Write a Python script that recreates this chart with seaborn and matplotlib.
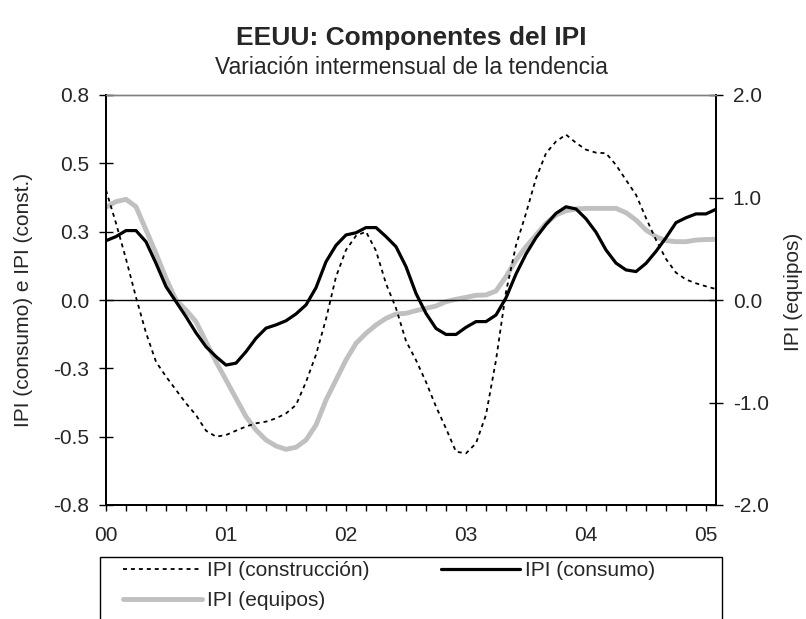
import numpy as np
import pandas as pd
import seaborn as sns
import matplotlib
matplotlib.use("Agg")
import matplotlib.pyplot as plt
from matplotlib.lines import Line2D
from matplotlib.patches import Rectangle

# ---- data (monthly, Jan 2000 .. Feb 2005) ----
months = list(range(62))
year_labels = ["00", "01", "02", "03", "04", "05"]
year_positions = [0, 12, 24, 36, 48, 60]

construccion = [0.402, 0.281, 0.150, 0.010, -0.120, -0.226, -0.280, -0.329, -0.378, -0.421,
                -0.478, -0.500, -0.494, -0.478, -0.463, -0.451, -0.445, -0.433, -0.415, -0.384,
                -0.300, -0.200, -0.070, 0.085, 0.183, 0.235, 0.250, 0.180, 0.060, -0.030,
                -0.150, -0.220, -0.300, -0.390, -0.470, -0.555, -0.561, -0.524, -0.420, -0.220,
                0.030, 0.200, 0.317, 0.445, 0.537, 0.580, 0.605, 0.575, 0.550, 0.539,
                0.537, 0.494, 0.439, 0.385, 0.300, 0.220, 0.150, 0.100, 0.075, 0.061,
                0.050, 0.040]

consumo = [0.217, 0.232, 0.254, 0.254, 0.213, 0.134, 0.049, -0.006, -0.061, -0.120,
           -0.171, -0.207, -0.238, -0.231, -0.189, -0.140, -0.103, -0.091, -0.076, -0.051,
           -0.018, 0.045, 0.140, 0.200, 0.238, 0.246, 0.265, 0.265, 0.232, 0.195,
           0.122, 0.024, -0.049, -0.104, -0.126, -0.126, -0.100, -0.079, -0.079, -0.055,
           0.008, 0.095, 0.168, 0.228, 0.276, 0.317, 0.341, 0.333, 0.297, 0.248,
           0.183, 0.135, 0.110, 0.104, 0.134, 0.178, 0.228, 0.283, 0.301, 0.315,
           0.315, 0.332]

equipos = [0.904, 0.960, 0.982, 0.910, 0.683, 0.455, 0.212, 0.000, -0.098, -0.211,
           -0.407, -0.602, -0.780, -0.959, -1.138, -1.268, -1.366, -1.424, -1.457, -1.437,
           -1.366, -1.220, -0.976, -0.780, -0.585, -0.423, -0.325, -0.244, -0.179, -0.137,
           -0.130, -0.104, -0.081, -0.059, -0.016, 0.007, 0.026, 0.046, 0.049, 0.088,
           0.228, 0.390, 0.520, 0.634, 0.748, 0.829, 0.871, 0.888, 0.894, 0.894,
           0.894, 0.894, 0.852, 0.780, 0.683, 0.618, 0.579, 0.569, 0.569, 0.585,
           0.590, 0.592]

left_ticks = [-0.75, -0.5, -0.25, 0.0, 0.25, 0.5, 0.75]
left_tick_labels = ["-0.8", "-0.5", "-0.3", "0.0", "0.3", "0.5", "0.8"]
right_ticks = [-2.0, -1.0, 0.0, 1.0, 2.0]
right_tick_labels = ["-2.0", "-1.0", "0.0", "1.0", "2.0"]

df = pd.DataFrame({"mes": months, "construccion": construccion,
                   "consumo": consumo, "equipos": equipos})

sns.set_style("white")
plt.rcParams["font.family"] = ["Liberation Sans", "DejaVu Sans"]

W, H = 806, 619
fig = plt.figure(figsize=(W / 100, H / 100), dpi=100)
L, R, T, B = 106, 716, 95, 505
ax = fig.add_axes([L / W, 1 - B / H, (R - L) / W, (B - T) / H])
ax2 = ax.twinx()

GRAY = "#c0c0c0"
DASH = (0, (2.2, 2.2))
sns.lineplot(data=df, x="mes", y="equipos", ax=ax2, color=GRAY, lw=3.5,
             solid_capstyle="butt")
sns.lineplot(data=df, x="mes", y="construccion", ax=ax, color="black", lw=1.3,
             linestyle=DASH)
sns.lineplot(data=df, x="mes", y="consumo", ax=ax, color="black", lw=2.3)
ax.set_zorder(ax2.get_zorder() + 1)
ax.patch.set_visible(False)

ax.axhline(0, color="black", lw=1.0, zorder=0)

ax.set_xlim(0, 61)
ax.set_ylim(-0.75, 0.75)
ax2.set_ylim(-2.0, 2.0)

ax.set_xticks(year_positions)
ax.set_xticklabels(year_labels)
ax.set_xticks(list(range(0, 62, 2)), minor=True)
ax.set_yticks(left_ticks)
ax.set_yticklabels(left_tick_labels)
ax2.set_yticks(right_ticks)
ax2.set_yticklabels(right_tick_labels)

fs = 15
ax.tick_params(axis="x", which="both", direction="out", length=4, width=1,
               color="black", labelsize=fs, pad=11, bottom=True)
ax.tick_params(axis="y", direction="inout", length=10, width=1, color="black",
               labelsize=fs, pad=7, left=True)
ax2.tick_params(axis="y", direction="inout", length=10, width=1, color="black",
                labelsize=fs, pad=7, right=True)

ax.set_xlabel("")
ax.set_ylabel("IPI (consumo) e IPI (const.)", fontsize=fs)
ax2.set_ylabel("IPI (equipos)", fontsize=fs)
ax.yaxis.set_label_coords((33 - L) / (R - L), 0.5)
ax2.yaxis.set_label_coords((784 - L) / (R - L), 0.52)

for a in (ax, ax2):
    for s in ("left", "right", "bottom"):
        a.spines[s].set_color("black")
        a.spines[s].set_linewidth(1.3)
    a.spines["top"].set_color("#808080")
    a.spines["top"].set_linewidth(1.0)

cx = (L + R) / 2 / W
fig.text(cx, 1 - 38 / H, "EEUU: Componentes del IPI", ha="center", va="center",
         fontsize=19, fontweight="bold")
fig.text(cx, 1 - 67 / H, "Variación intermensual de la tendencia", ha="center",
         va="center", fontsize=16.5)

# legend box (extends below the figure edge)
fig.patches.append(Rectangle((100 / W, -0.05), (722 - 100) / W, 0.05 + 1 - 557 / H,
                             transform=fig.transFigure, fill=False,
                             edgecolor="black", lw=1.0))
handles = [
    Line2D([], [], color="black", lw=1.3, linestyle=DASH),
    Line2D([], [], color=GRAY, lw=3.5),
    Line2D([], [], color="black", lw=2.3),
]
labels = ["IPI (construcción)", "IPI (equipos)", "IPI (consumo)"]
fig.legend(handles, labels, ncol=2, loc="upper left",
           bbox_to_anchor=(123 / W, 1 - 561 / H), frameon=False, fontsize=fs,
           handlelength=3.8, handletextpad=0.25, columnspacing=3.4,
           labelspacing=0.55, borderaxespad=0, borderpad=0.0)

fig.savefig("out.png", dpi=100)
